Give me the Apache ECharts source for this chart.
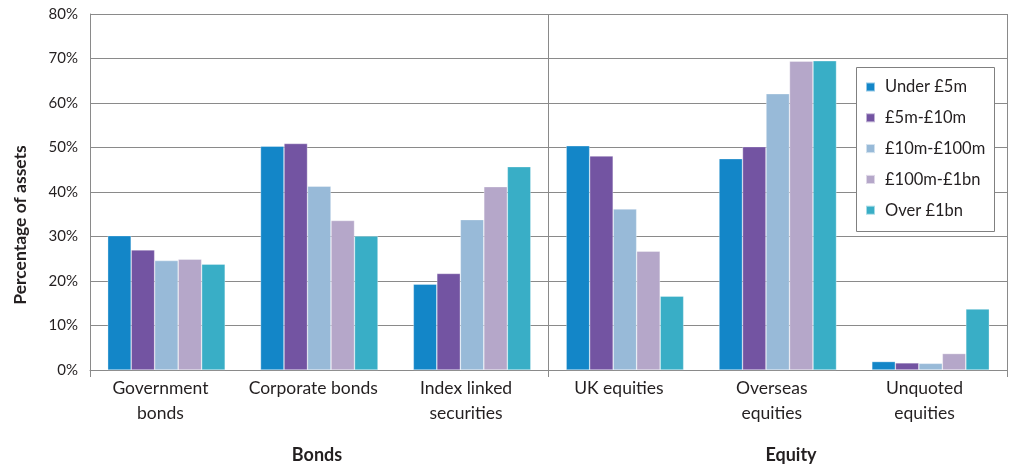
<!DOCTYPE html>
<html>
<head>
<meta charset="utf-8">
<script src="https://cdn.jsdelivr.net/npm/echarts@6/dist/echarts.min.js"></script>
<style>
  html, body { margin: 0; padding: 0; background: #fff; }
  #chart { width: 1009px; height: 467px; }
</style>
</head>
<body>
<div id="chart"></div>
<script>
// Asset classes along the bottom, grouped into Bonds and Equity
const categories = ['Government\nbonds', 'Corporate bonds', 'Index linked\nsecurities',
                    'UK equities', 'Overseas\nequities', 'Unquoted\nequities'];
const groups = ['Bonds', 'Equity'];

// Share of assets (%) held by schemes of each size band
const seriesNames = ['Under £5m', '£5m-£10m', '£10m-£100m', '£100m-£1bn', 'Over £1bn'];
const under5m     = [30.2, 50.3, 19.3, 50.4, 47.5, 1.9];
const m5to10      = [27.0, 50.9, 21.7, 48.1, 50.2, 1.6];
const m10to100    = [24.6, 41.3, 33.8, 36.2, 62.1, 1.5];
const m100to1bn   = [24.9, 33.6, 41.2, 26.7, 69.4, 3.7];
const over1bn     = [23.8, 30.1, 45.7, 16.6, 69.5, 13.7];
const seriesValues = [under5m, m5to10, m10to100, m100to1bn, over1bn];

const yTicks = [0, 10, 20, 30, 40, 50, 60, 70, 80];

const colors = ['#1386c8', '#7354a2', '#98bad8', '#b5a7c9', '#39aec6'];
const FONT = 'Lato, "Open Sans", sans-serif';
const TEXT = '#231f20';
const GRID = '#8a8a8a';

const chart = echarts.init(document.getElementById('chart'), null, { renderer: 'canvas' });

const option = {
  animation: false,
  color: colors,
  textStyle: { fontFamily: FONT, color: TEXT },
  grid: { left: 90, right: 2, top: 14, bottom: 97, containLabel: false },
  legend: {
    orient: 'vertical',
    left: 865, top: 78, z: 10,
    padding: 0,
    itemWidth: 9, itemHeight: 9,
    itemGap: 12.8,
    icon: 'rect',
    data: seriesNames,
    textStyle: { fontFamily: FONT, fontSize: 16.5, color: TEXT, lineHeight: 18, padding: [0, 0, 0, 5] }
  },
  xAxis: [
    {
      type: 'category',
      data: categories,
      axisLine: { show: true, lineStyle: { color: GRID, width: 1 } },
      axisTick: { show: false },
      axisLabel: {
        interval: 0, fontFamily: FONT, fontSize: 17.5, lineHeight: 25, color: TEXT,
        margin: 6, padding: [0, 12, 0, 0]
      }
    },
    {
      // group boundaries: left edge, Bonds | Equity divider, right edge
      type: 'value', min: 0, max: 6, interval: 3,
      position: 'bottom',
      axisLine: { show: false },
      axisLabel: { show: false },
      axisTick: { show: true, length: 7, inside: false, lineStyle: { color: GRID, width: 1 } },
      splitLine: { show: true, lineStyle: { color: GRID, width: 1 } }
    }
  ],
  yAxis: {
    type: 'value',
    min: yTicks[0], max: yTicks[yTicks.length - 1], interval: 10,
    axisLine: { show: true, lineStyle: { color: GRID, width: 1 } },
    axisTick: { show: false },
    splitLine: { show: true, lineStyle: { color: GRID, width: 1 } },
    axisLabel: {
      fontFamily: FONT, fontSize: 15, color: TEXT, margin: 12,
      formatter: v => v + '%'
    }
  },
  graphic: [
    {
      type: 'rect', left: 856, top: 67, silent: true, z: 3,
      shape: { width: 138, height: 164 },
      style: { fill: '#fff', stroke: '#808080', lineWidth: 1 }
    },
    {
      type: 'text', z: 10,
      x: 20, y: 225, rotation: Math.PI / 2,
      style: { text: 'Percentage of assets', fontFamily: FONT, fontSize: 17.5, fontWeight: 'bold',
               fill: TEXT, align: 'center', verticalAlign: 'middle' }
    },
    {
      type: 'text', z: 10, x: 317, y: 455,
      style: { text: groups[0], fontFamily: FONT, fontSize: 18, fontWeight: 'bold',
               fill: TEXT, align: 'center', verticalAlign: 'middle' }
    },
    {
      type: 'text', z: 10, x: 791, y: 455,
      style: { text: groups[1], fontFamily: FONT, fontSize: 18, fontWeight: 'bold',
               fill: TEXT, align: 'center', verticalAlign: 'middle' }
    }
  ],
  series: seriesNames.map((name, i) => ({
    name,
    type: 'bar',
    xAxisIndex: 0,
    data: seriesValues[i],
    barWidth: 23.5,
    barGap: '0%',
    itemStyle: { color: colors[i], borderColor: 'rgba(255,255,255,0.55)', borderWidth: 0.6 }
  }))
};

chart.setOption(option);
</script>
</body>
</html>
